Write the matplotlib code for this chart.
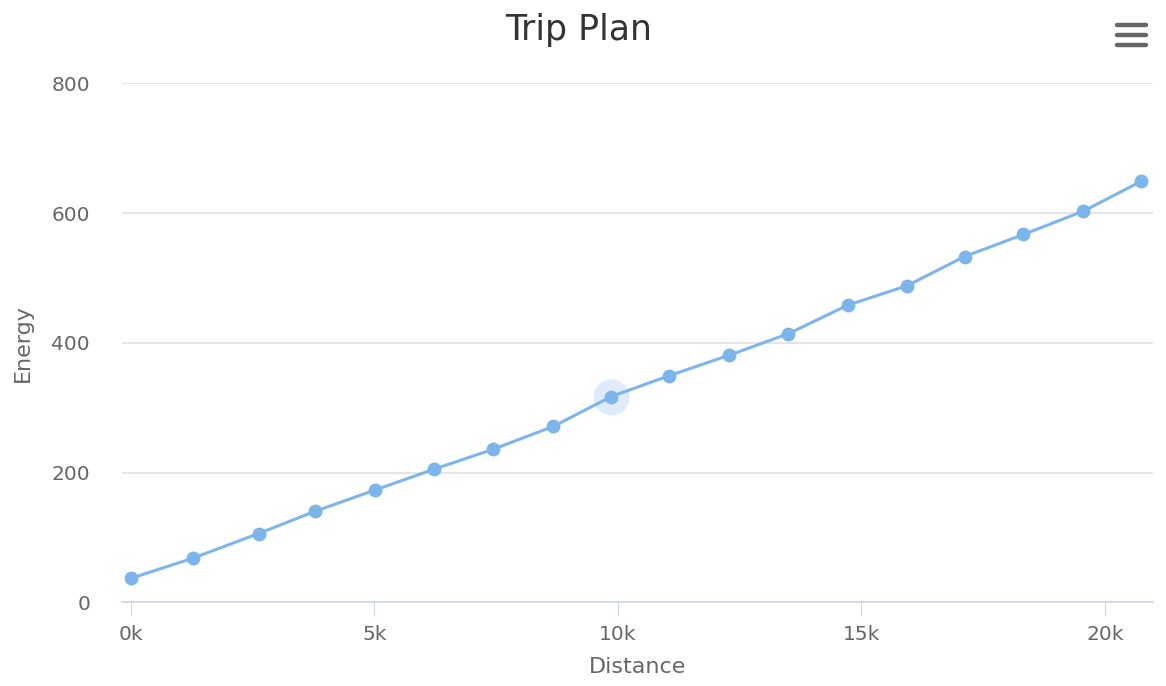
import numpy as np
import matplotlib.pyplot as plt
from matplotlib.lines import Line2D

# data (distance in k, energy)
distance_k = [0, 1.27, 2.62, 3.77, 5.01, 6.22, 7.44, 8.67, 9.86, 11.04,
              12.29, 13.5, 14.72, 15.94, 17.12, 18.33, 19.56, 20.75]
energy = [37, 68, 106, 140, 173, 205, 236, 271, 317, 349,
          381, 414, 458, 488, 533, 567, 603, 649]
hover_index = 8

x_ticks = [0, 5, 10, 15, 20]
x_tick_labels = ["0k", "5k", "10k", "15k", "20k"]
y_ticks = [0, 200, 400, 600, 800]

line_color = "#7cb5ec"
text_color = "#666666"

fig = plt.figure(figsize=(11.66, 6.86), dpi=100)
ax = fig.add_axes([122 / 1166, 1 - 602.3 / 686, (1153 - 122) / 1166, (602.3 - 83.3) / 686])

# halo around the hovered point
ax.plot(distance_k[hover_index], energy[hover_index], "o", ms=26,
        color=line_color, alpha=0.25, mec="none", zorder=2)
ax.plot(distance_k, energy, "-o", color=line_color, lw=2.2, ms=10,
        mec="none", zorder=3, clip_on=False)

ax.set_xlim(-0.185, 20.99)
ax.set_ylim(0, 800)
ax.set_xticks(x_ticks)
ax.set_xticklabels(x_tick_labels)
ax.set_yticks(y_ticks)

ax.grid(axis="y", color="#e0e0e0", lw=1.2)
ax.set_axisbelow(True)
for s in ["top", "right", "left"]:
    ax.spines[s].set_visible(False)
ax.spines["bottom"].set_color("#ccd6eb")
ax.spines["bottom"].set_linewidth(1.2)
ax.tick_params(axis="x", length=10, color="#ccd6eb", labelsize=14.5,
               labelcolor=text_color, pad=6)
ax.tick_params(axis="y", length=0, labelsize=14.5, labelcolor=text_color, pad=23)

ax.set_xlabel("Distance", fontsize=16, color=text_color)
ax.xaxis.set_label_coords(0.5, -0.105)
ax.set_ylabel("Energy", fontsize=16, color=text_color)
ax.yaxis.set_label_coords(-0.096, 0.5)
ax.yaxis.label.set_va("center")

fig.text(0.496, 1 - 30 / 686, "Trip Plan", ha="center", va="center",
         fontsize=25, color="#333333")

# menu (hamburger) icon in the top-right corner
for yy in [25, 35, 45]:
    fig.add_artist(Line2D([1117 / 1166, 1146 / 1166], [1 - yy / 686] * 2,
                          color="#666666", lw=3.2, solid_capstyle="round"))

fig.savefig("out.png", dpi=100, facecolor="white")
